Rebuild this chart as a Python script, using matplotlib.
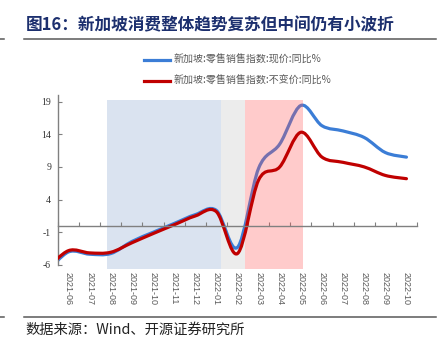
import numpy as np
import matplotlib
matplotlib.use("Agg")
import matplotlib.pyplot as plt
from matplotlib.path import Path
from matplotlib.patches import PathPatch, Rectangle
from matplotlib.lines import Line2D

plt.rcParams['axes.unicode_minus'] = False
CJK = ['Noto Sans CJK SC', 'DejaVu Sans']

# x-axis labels (one per month) and the data months (first one falls left of the axis)
months = ['2021-06', '2021-07', '2021-08', '2021-09', '2021-10', '2021-11',
          '2021-12', '2022-01', '2022-02', '2022-03', '2022-04', '2022-05',
          '2022-06', '2022-07', '2022-08', '2022-09', '2022-10']
data_months = ['2021-05'] + months

# retail sales index yoy %
nominal = [-7.0, -4.0, -4.35, -4.25, -2.4, -1.0, 0.35, 1.7, 2.35, -3.3,
           8.8, 12.5, 18.4, 15.3, 14.5, 13.5, 11.2, 10.5]
real = [-6.5, -3.8, -4.15, -4.05, -2.6, -1.2, 0.15, 1.5, 2.15, -4.25,
        7.0, 9.0, 14.3, 10.5, 9.7, 9.0, 7.7, 7.2]

labels = ['新加坡:零售销售指数:现价:同比%', '新加坡:零售销售指数:不变价:同比%']

# shaded periods (start, end in month-index units)
spans = [(1.84, 7.21, '#dae3f0'),
         (7.21, 8.36, '#ececec')]
pink_span = (8.36, 11.1)

blue = '#3b7dd6'
red = '#c00000'
grey = '#808080'


def smooth_path(xs, ys):
    # Excel-style smoothed line as cubic bezier segments
    pts = np.column_stack([xs, ys]).astype(float)
    ext = np.vstack([pts[0], pts, pts[-1]])
    verts = [pts[0]]
    codes = [Path.MOVETO]
    for i in range(len(pts) - 1):
        p0, p1, p2, p3 = ext[i], ext[i + 1], ext[i + 2], ext[i + 3]
        verts += [p1 + (p2 - p0) / 6, p2 - (p3 - p1) / 6, p2]
        codes += [Path.CURVE4] * 3
    return Path(verts, codes)


fig = plt.figure(figsize=(4.43, 3.56), dpi=100)
ax = fig.add_axes([58 / 443, 1 - 265 / 356, 359 / 443, 170 / 356])

x_data = np.arange(len(data_months)) - 1

for x0, x1, c in spans:
    ax.add_patch(Rectangle((x0, -6.65), x1 - x0, 25.95, color=c,
                           lw=0, zorder=0, clip_on=False))

ax.add_patch(PathPatch(smooth_path(x_data, nominal), fill=False, edgecolor=blue,
                       lw=2.3, capstyle='round', joinstyle='round', zorder=2))
ax.add_patch(Rectangle((pink_span[0], -6.65), pink_span[1] - pink_span[0], 25.95,
                       color=(1, 85 / 255, 85 / 255), alpha=0.3, lw=0, zorder=3,
                       clip_on=False))
ax.add_patch(PathPatch(smooth_path(x_data, real), fill=False, edgecolor=red,
                       lw=2.3, capstyle='round', joinstyle='round', zorder=4))

ax.set_xlim(-0.5, len(months) - 0.5)
ax.set_ylim(-6, 20)
ax.set_yticks([-6, -1, 4, 9, 14, 19])

for s in ['top', 'right']:
    ax.spines[s].set_visible(False)
ax.spines['bottom'].set_position(('data', 0))
ax.spines['bottom'].set_color(grey)
ax.spines['bottom'].set_linewidth(1.0)
ax.spines['left'].set_color(grey)
ax.spines['left'].set_linewidth(1.0)
ax.spines['bottom'].set_zorder(5)

ax.set_xticks(np.arange(-0.5, len(months), 1))
ax.tick_params(axis='x', direction='in', length=3, color=grey, labelbottom=False)
ax.tick_params(axis='y', direction='in', length=3, color=grey, pad=5,
               labelsize=7, labelcolor='#333333')
for t in ax.get_yticklabels():
    t.set_family('Liberation Serif')

sec = ax.secondary_xaxis('bottom')
sec.set_xticks(range(len(months)), labels=months)
sec.spines['bottom'].set_visible(False)
sec.tick_params(length=0, pad=5, labelsize=6.5, labelcolor='#595959',
                rotation=-90)
for t in sec.get_xticklabels():
    t.set_family('Liberation Sans')

handles = [Line2D([], [], color=blue, lw=2.3), Line2D([], [], color=red, lw=2.3)]
fig.legend(handles, labels, loc='upper left', bbox_to_anchor=(144 / 443, 1 - 55 / 356),
           frameon=False, handlelength=2.6, handletextpad=0.35,
           labelspacing=1.1, borderpad=0, borderaxespad=0, labelcolor='#595959',
           prop={'family': CJK, 'size': 7.2})

fig.text(26 / 443, 1 - 25 / 356, '图16：新加坡消费整体趋势复苏但中间仍有小波折',
         fontsize=12.0, fontweight='bold', color='#1c2f6e', va='center', ha='left',
         family=CJK)
fig.text(25 / 443, 1 - 330 / 356, '数据来源：Wind、开源证券研究所',
         fontsize=10.3, color='#222222', va='center', ha='left', family=CJK)

for yy in [38.5, 316.5]:
    fig.add_artist(Line2D([24 / 443, 436 / 443], [1 - yy / 356] * 2,
                          color='#595959', lw=1.1))
    fig.add_artist(Line2D([0, 4 / 443], [1 - yy / 356] * 2, color='#595959', lw=1.1))

fig.savefig('out.png', dpi=100)
